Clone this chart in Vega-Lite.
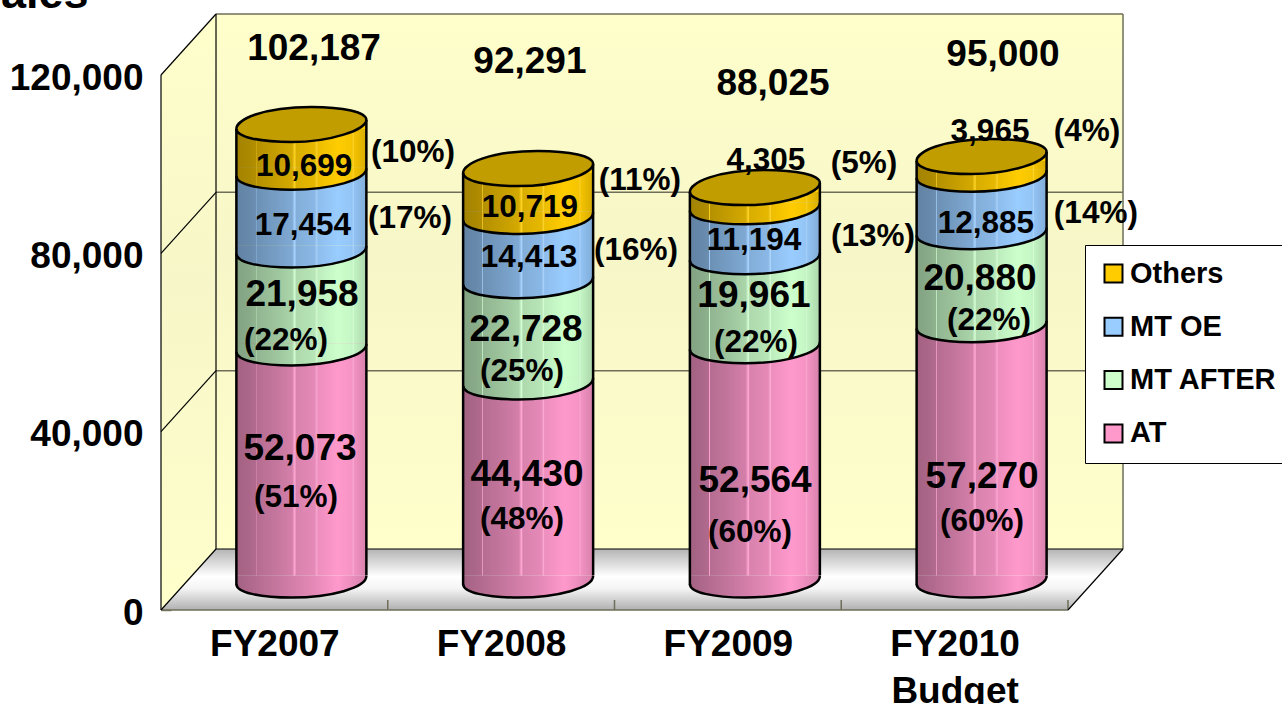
{
"$schema":"https://vega.github.io/schema/vega-lite/v6.json",
"autosize":{"type":"none"},
"padding":{"left":161,"top":0,"right":0,"bottom":94},
"width":1121,"height":610,
"background":"white",
"config":{"view":{"stroke":null},"font":"Liberation Sans"},
"datasets":{
"walls":[
{"wall":"back","x":0.2426,"y":13682,"y2":133682},{"wall":"back","x":4.2426,"y":13682,"y2":133682},
{"wall":"left","x":0,"y":0,"y2":120000},{"wall":"left","x":0.2426,"y":13682,"y2":133682},
{"wall":"floor","x":0,"y":0,"y2":0},{"wall":"floor","x":0.2426,"y":0,"y2":13682},{"wall":"floor","x":4,"y":0,"y2":13682},{"wall":"floor","x":4.2426,"y":13682,"y2":13682}
],
"lines":[
{"kind":"grid","x":0.2426,"x2":4.2426,"y":53682,"y2":53682},
{"kind":"grid","x":0.2426,"x2":4.2426,"y":93682,"y2":93682},
{"kind":"grid","x":4.2426,"x2":4.2426,"y":13682,"y2":133682},
{"kind":"grid","x":0.2426,"x2":4.2426,"y":133682,"y2":133682},
{"kind":"grid","x":0,"x2":4,"y":0,"y2":0},
{"kind":"grid","x":1,"x2":1,"y":0,"y2":2240},
{"kind":"grid","x":2,"x2":2,"y":0,"y2":2240},
{"kind":"grid","x":3,"x2":3,"y":0,"y2":2240},
{"kind":"grid","x":4,"x2":4,"y":0,"y2":2240},
{"kind":"edge","x":0,"x2":0.2426,"y":40000,"y2":53682},
{"kind":"edge","x":0,"x2":0.2426,"y":80000,"y2":93682},
{"kind":"edge","x":0,"x2":0.2426,"y":0,"y2":13682},
{"kind":"edge","x":0,"x2":0.2426,"y":120000,"y2":133682},
{"kind":"edge","x":0,"x2":0,"y":0,"y2":120000},
{"kind":"edge","x":0.2426,"x2":0.2426,"y":13682,"y2":133682},
{"kind":"edge","x":0.2426,"x2":4.2426,"y":13682,"y2":13682},
{"kind":"edge","x":4,"x2":4.2426,"y":0,"y2":13682}
],
"rows":[
{"x":0.5,"series":"AT","order":1,"value":52073},{"x":0.5,"series":"MT AFTER","order":2,"value":21958},{"x":0.5,"series":"MT OE","order":3,"value":17454},{"x":0.5,"series":"Others","order":4,"value":10699},
{"x":1.5,"series":"AT","order":1,"value":44430},{"x":1.5,"series":"MT AFTER","order":2,"value":22728},{"x":1.5,"series":"MT OE","order":3,"value":14413},{"x":1.5,"series":"Others","order":4,"value":10719},
{"x":2.5,"series":"AT","order":1,"value":52564},{"x":2.5,"series":"MT AFTER","order":2,"value":19961},{"x":2.5,"series":"MT OE","order":3,"value":11194},{"x":2.5,"series":"Others","order":4,"value":4305},
{"x":3.5,"series":"AT","order":1,"value":57270},{"x":3.5,"series":"MT AFTER","order":2,"value":20880},{"x":3.5,"series":"MT OE","order":3,"value":12885},{"x":3.5,"series":"Others","order":4,"value":3965}
],
"labels":[
{"t":"102,187","k":"big","x":0.675,"y":126057},{"t":"92,291","k":"big","x":1.627,"y":123141},{"t":"88,025","k":"big","x":2.699,"y":118206},{"t":"95,000","k":"big","x":3.713,"y":124711},
{"t":"10,699","k":"small","x":0.631,"y":99589},{"t":"(10%)","k":"small","x":1.111,"y":102729},{"t":"17,454","k":"small","x":0.626,"y":86356},{"t":"(17%)","k":"small","x":1.098,"y":87926},{"t":"21,958","k":"big","x":0.622,"y":70879},{"t":"(22%)","k":"small","x":0.551,"y":60561},{"t":"52,073","k":"big","x":0.613,"y":36337},{"t":"(51%)","k":"small","x":0.595,"y":25346},
{"t":"10,719","k":"small","x":1.627,"y":90393},{"t":"(11%)","k":"small","x":2.112,"y":96449},{"t":"14,413","k":"small","x":1.623,"y":79178},{"t":"(16%)","k":"small","x":2.095,"y":80748},{"t":"22,728","k":"big","x":1.61,"y":63028},{"t":"(25%)","k":"small","x":1.592,"y":53608},{"t":"44,430","k":"big","x":1.614,"y":30505},{"t":"(48%)","k":"small","x":1.592,"y":20411},
{"t":"4,305","k":"small","x":2.668,"y":100935},{"t":"(5%)","k":"small","x":3.1,"y":100262},{"t":"11,194","k":"small","x":2.615,"y":82991},{"t":"(13%)","k":"small","x":3.14,"y":83888},{"t":"19,961","k":"big","x":2.615,"y":70655},{"t":"(22%)","k":"small","x":2.624,"y":60112},{"t":"52,564","k":"big","x":2.62,"y":29159},{"t":"(60%)","k":"small","x":2.598,"y":17495},
{"t":"3,965","k":"small","x":3.656,"y":107440},{"t":"(4%)","k":"small","x":4.084,"y":107440},{"t":"12,885","k":"small","x":3.638,"y":86804},{"t":"(14%)","k":"small","x":4.123,"y":89047},{"t":"20,880","k":"big","x":3.612,"y":74468},{"t":"(22%)","k":"small","x":3.652,"y":65047},{"t":"57,270","k":"big","x":3.621,"y":30056},{"t":"(60%)","k":"small","x":3.621,"y":19963}
]
},
"encoding":{"x":{"field":"x","type":"quantitative","scale":{"domain":[0,4.9438],"nice":false,"zero":false,"padding":0},
"axis":{"title":null,"values":[0.5,1.5,2.5,3.5],"domain":false,"ticks":false,"grid":false,"labelFont":"Liberation Sans","labelFontWeight":"bold","labelFontSize":37,"labelColor":"#000","labelPadding":16,"labelLineHeight":47,"labelOverlap":false,"labelBound":false,"labelFlush":false,
"labelExpr":"datum.value==0.5?'FY2007':datum.value==1.5?'FY2008':datum.value==2.5?'FY2009':['FY2010','Budget']"}}},
"data":{"name":"rows"},
"layer":[
{"data":{"name":"walls"},"transform":[{"filter":"datum.wall=='back'"}],
"mark":{"type":"area","fill":{"gradient":"linear","x1":0,"y1":0,"x2":0,"y2":1,"stops":[{"offset":0,"color":"#FFFFCC"},{"offset":0.45,"color":"#F6F6C8"},{"offset":1,"color":"#FFFFCC"}]}},
"encoding":{"y":{"field":"y","type":"quantitative","stack":null,"scale":{"domain":[0,136824],"nice":false,"zero":false},
"axis":{"title":"Sales","titleX":-73,"titleY":7,"titleAngle":0,"titleAlign":"right","titleBaseline":"alphabetic","titleFont":"Liberation Sans","titleFontWeight":"bold","titleFontSize":45,"titleColor":"#000","values":[0,40000,80000,120000],"format":",.0f","domain":false,"grid":false,"tickSize":-10,"tickColor":"#808060","tickWidth":1.5,"labelFont":"Liberation Sans","labelFontWeight":"bold","labelFontSize":37,"labelColor":"#000","labelPadding":28,"labelOffset":3,"labelOverlap":false,"labelBound":false,"labelFlush":false}},"y2":{"field":"y2"}}},
{"data":{"name":"walls"},"transform":[{"filter":"datum.wall=='left'"}],
"mark":{"type":"area","fill":{"gradient":"linear","x1":0,"y1":0,"x2":0,"y2":1,"stops":[{"offset":0,"color":"#FFFFCC"},{"offset":0.45,"color":"#F6F6C8"},{"offset":1,"color":"#FFFFCC"}]}},
"encoding":{"y":{"field":"y","type":"quantitative","stack":null,"scale":{"domain":[0,136824],"nice":false,"zero":false}},"y2":{"field":"y2"}}},
{"data":{"name":"walls"},"transform":[{"filter":"datum.wall=='floor'"}],
"mark":{"type":"area","fill":{"gradient":"linear","x1":0,"y1":0,"x2":0,"y2":1,"stops":[{"offset":0,"color":"#B4B4B4"},{"offset":0.45,"color":"#FFFFFF"},{"offset":0.65,"color":"#F4F4F4"},{"offset":1,"color":"#B0B0B0"}]}},
"encoding":{"y":{"field":"y","type":"quantitative","stack":null,"scale":{"domain":[0,136824],"nice":false,"zero":false}},"y2":{"field":"y2"}}},
{"data":{"name":"lines"},"transform":[{"filter":"datum.kind=='grid'"}],
"mark":{"type":"rule","stroke":"#6E6E5A","strokeWidth":1.5},
"encoding":{"x2":{"field":"x2"},"y":{"field":"y","type":"quantitative","scale":{"domain":[0,136824],"nice":false,"zero":false}},"y2":{"field":"y2"}}},
{"data":{"name":"lines"},"transform":[{"filter":"datum.kind=='edge'"}],
"mark":{"type":"rule","stroke":"#000","strokeWidth":1.2},
"encoding":{"x2":{"field":"x2"},"y":{"field":"y","type":"quantitative","scale":{"domain":[0,136824],"nice":false,"zero":false}},"y2":{"field":"y2"}}},
{"data":{"name":"rows"},
"transform":[{"stack":"value","groupby":["x"],"sort":[{"field":"order","order":"ascending"}],"as":["y0","y1"]}],
"encoding":{"y":{"field":"y0","type":"quantitative","stack":null,"scale":{"domain":[0,136824],"nice":false,"zero":false}}},
"layer":[
{"transform":[{"filter":"datum.series!='Others'"}],
"mark":{"type":"bar","width":130,"xOffset":27,"yOffset":-34.5,"y2Offset":-34.5},
"encoding":{"y2":{"field":"y1"},"color":{"field":"series","type":"nominal","scale":{"domain":["Others","MT OE","MT AFTER","AT"],"range":["#FFCC00","#99CCFF","#CCFFCC","#FF99CC"]},
"legend":{"title":null,"orient":"none","legendX":924,"legendY":245,"fillColor":"#FFFFFF","strokeColor":"#000","padding":14,"symbolType":"square","symbolSize":324,"symbolStrokeColor":"#000","symbolStrokeWidth":2,"labelFont":"Liberation Sans","labelFontWeight":"bold","labelFontSize":29,"labelColor":"#000","labelOffset":2,"rowPadding":23.3,"labelLimit":300}}}},
{"transform":[{"filter":"datum.series=='Others'"}],
"mark":{"type":"bar","width":130,"xOffset":27,"yOffset":-34.5,"y2Offset":-25.5},
"encoding":{"y2":{"field":"y1"},"color":{"field":"series","type":"nominal"}}},
{"mark":{"type":"point","shape":"M-1,-0.07 L-1,0.06 C-1,0.19 -0.65,0.27 -0.15,0.27 C0.45,0.27 1,0.12 1,-0.06 L1,-0.07 Z","size":16900,"filled":true,"opacity":1,"strokeWidth":0,"xOffset":27,"yOffset":-30},
"encoding":{"color":{"field":"series","type":"nominal"}}},
{"transform":[{"filter":"datum.series=='Others'"}],
"mark":{"type":"point","shape":"M-1,0.07 L1,-0.07 L1,0.07 Z","size":16900,"filled":true,"opacity":1,"strokeWidth":0,"xOffset":27,"yOffset":-30},
"encoding":{"y":{"field":"y1","type":"quantitative","scale":{"domain":[0,136824],"nice":false,"zero":false}},"color":{"field":"series","type":"nominal"}}},
{"transform":[{"filter":"datum.series=='Others'"}],
"mark":{"type":"bar","width":130,"xOffset":27,"yOffset":-25.5,"y2Offset":-34.5,
"fill":{"gradient":"linear","x1":0,"y1":0,"x2":1,"y2":0,"stops":[{"offset":0,"color":"rgba(0,0,0,0.36)"},{"offset":0.1,"color":"rgba(0,0,0,0.33)"},{"offset":0.148,"color":"rgba(0,0,0,0.3)"},{"offset":0.15,"color":"rgba(255,255,255,0.12)"},{"offset":0.156,"color":"rgba(0,0,0,0.29)"},{"offset":0.3,"color":"rgba(0,0,0,0.23)"},{"offset":0.43,"color":"rgba(0,0,0,0.17)"},{"offset":0.45,"color":"rgba(255,255,255,0.15)"},{"offset":0.46,"color":"rgba(0,0,0,0.15)"},{"offset":0.6,"color":"rgba(0,0,0,0.1)"},{"offset":0.62,"color":"rgba(255,255,255,0.18)"},{"offset":0.63,"color":"rgba(0,0,0,0.07)"},{"offset":0.78,"color":"rgba(0,0,0,0)"},{"offset":0.88,"color":"rgba(0,0,0,0.03)"},{"offset":0.9,"color":"rgba(255,255,255,0.15)"},{"offset":0.91,"color":"rgba(0,0,0,0.05)"},{"offset":1,"color":"rgba(0,0,0,0.16)"}]}},
"encoding":{"y":{"field":"y1","type":"quantitative","stack":null,"scale":{"domain":[0,136824],"nice":false,"zero":false}},"y2":{"datum":0}}},
{"transform":[{"filter":"datum.series=='AT'"}],
"mark":{"type":"point","shape":"M-1,-0.07 L-1,0.06 C-1,0.19 -0.65,0.27 -0.15,0.27 C0.45,0.27 1,0.12 1,-0.06 L1,-0.07 Z","size":16900,"filled":true,"opacity":1,"strokeWidth":0,"xOffset":27,"yOffset":-30,
"fill":{"gradient":"linear","x1":0,"y1":0,"x2":1,"y2":0,"stops":[{"offset":0,"color":"rgba(0,0,0,0.36)"},{"offset":0.3,"color":"rgba(0,0,0,0.23)"},{"offset":0.6,"color":"rgba(0,0,0,0.1)"},{"offset":0.78,"color":"rgba(0,0,0,0)"},{"offset":1,"color":"rgba(0,0,0,0.16)"}]}}},
{"transform":[{"filter":"datum.series=='Others'"}],
"mark":{"type":"point","shape":"M-1,0.07 C-1,-0.07 -0.6,-0.27 0.15,-0.27 C0.65,-0.27 1,-0.19 1,-0.07 C1,0.08 0.45,0.27 -0.15,0.27 C-0.65,0.27 -1,0.19 -1,0.07 Z","size":16900,"filled":true,"opacity":1,"fill":"#C29D00","stroke":"#000","strokeWidth":2.5,"xOffset":27,"yOffset":-30},
"encoding":{"y":{"field":"y1","type":"quantitative","scale":{"domain":[0,136824],"nice":false,"zero":false}}}},
{"mark":{"type":"point","shape":"M-1,0.06 C-1,0.19 -0.65,0.27 -0.15,0.27 C0.45,0.27 1,0.12 1,-0.06","size":16900,"filled":false,"fill":"transparent","opacity":1,"stroke":"#000","strokeWidth":2.5,"xOffset":27,"yOffset":-30}},
{"transform":[{"filter":"datum.series=='Others'"}],
"mark":{"type":"rule","stroke":"#000","strokeWidth":2.5,"xOffset":-38,"yOffset":-25.5,"y2Offset":-25.5},
"encoding":{"y":{"field":"y1","type":"quantitative","stack":null,"scale":{"domain":[0,136824],"nice":false,"zero":false}},"y2":{"datum":0}}},
{"transform":[{"filter":"datum.series=='Others'"}],
"mark":{"type":"rule","stroke":"#000","strokeWidth":2.5,"xOffset":92,"yOffset":-34.5,"y2Offset":-34.5},
"encoding":{"y":{"field":"y1","type":"quantitative","stack":null,"scale":{"domain":[0,136824],"nice":false,"zero":false}},"y2":{"datum":0}}}
]},
{"data":{"name":"labels"},
"mark":{"type":"text","font":"Liberation Sans","fontWeight":"bold","align":"center","baseline":"middle","color":"#000","dy":1},
"encoding":{"y":{"field":"y","type":"quantitative","scale":{"domain":[0,136824],"nice":false,"zero":false}},"text":{"field":"t"},"size":{"field":"k","type":"ordinal","legend":null,"scale":{"domain":["big","small"],"range":[37,31.5]}}}}
]
}
